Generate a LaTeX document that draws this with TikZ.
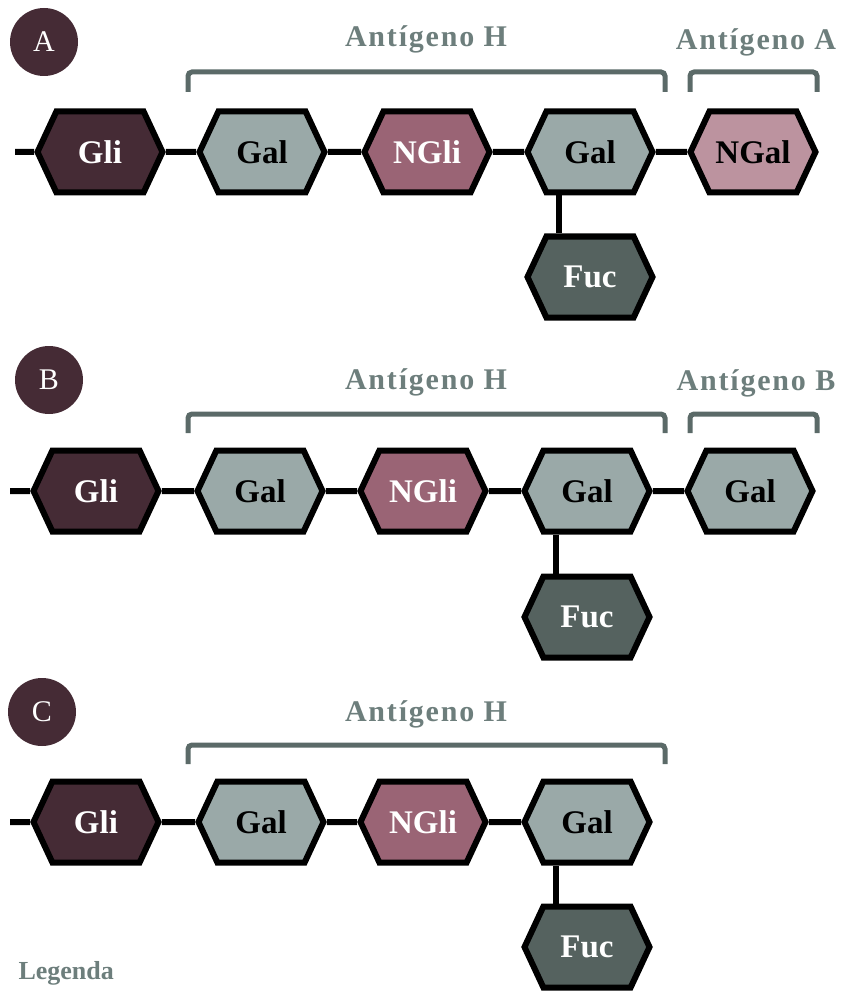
\documentclass[tikz,border=0pt]{standalone}
\usepackage{fontspec}
\setmainfont{Liberation Serif}
\newfontfamily\labelfont[LetterSpace=6]{Liberation Serif}
\usetikzlibrary{shapes.symbols}

\definecolor{cgli}{HTML}{452B35}
\definecolor{cgal}{HTML}{9AA9A8}
\definecolor{cngli}{HTML}{9A6475}
\definecolor{cngal}{HTML}{BC939F}
\definecolor{cfuc}{HTML}{55625F}
\definecolor{cbrack}{HTML}{5B6A68}
\definecolor{ctext}{HTML}{6D7E7C}

\begin{document}
\begin{tikzpicture}[x=1pt, y=-1pt]
    \tikzset{
        sugar/.style= {signal, signal to=east and west, signal pointer angle=130,
            draw=black, line width=6pt, minimum width=125pt, minimum height=81pt,
            inner sep=0pt, font=\fontsize{33}{33}\selectfont\bfseries},
        gli/.style= {sugar, fill=cgli, text=white},
        gal/.style= {sugar, fill=cgal, text=black},
        ngli/.style= {sugar, fill=cngli, text=white},
        ngal/.style= {sugar, fill=cngal, text=black},
        fuc/.style= {sugar, fill=cfuc, text=white},
        bond/.style= {draw=black, line width=6pt},
        tag/.style= {circle, fill=cgli, text=white, minimum size=68pt, inner sep=0pt,
            font=\fontsize{30}{30}\selectfont},
        antigen/.style= {anchor=base, text=ctext, font=\fontsize{30}{30}\selectfont\labelfont\bfseries},
        brack/.style= {draw=cbrack, line width=5pt, rounded corners=4pt},
    }
    \useasboundingbox (0,0) rectangle (845,992);

    % A
    \node[tag] (ta) at (44,42) {A};
    \node[antigen] (ha) at (426,47) {Antígeno H};
    \node[antigen] (aa) at (756,50) {Antígeno A};
    \draw[brack] (188,92) -- (188,72) -- (665,72) -- (665,92);
    \draw[brack] (690,92) -- (690,72) -- (817,72) -- (817,92);
    \coordinate (a0) at (15,152);
    \node[gli] (a1) at (100,152) {Gli};
    \node[gal] (a2) at (262,152) {Gal};
    \node[ngli] (a3) at (427,152) {NGli};
    \node[gal] (a4) at (590,152) {Gal};
    \node[ngal] (a5) at (753,152) {NGal};
    \node[fuc] (af) at (590,277) {Fuc};
    \draw[bond] (a0) -- (a1) -- (a2) -- (a3) -- (a4) -- (a5);
    \draw[bond] ([xshift=-31pt]a4.south) -- ([xshift=-31pt]af.north);

    % B
    \node[tag] (tb) at (49,380) {B};
    \node[antigen] (hb) at (426,389) {Antígeno H};
    \node[antigen] (ab) at (756,390) {Antígeno B};
    \draw[brack] (188,433) -- (188,414) -- (665,414) -- (665,433);
    \draw[brack] (690,433) -- (690,414) -- (817,414) -- (817,433);
    \coordinate (b0) at (10,491);
    \node[gli] (b1) at (96,491) {Gli};
    \node[gal] (b2) at (260,491) {Gal};
    \node[ngli] (b3) at (423,491) {NGli};
    \node[gal] (b4) at (587,491) {Gal};
    \node[gal] (b5) at (750,491) {Gal};
    \node[fuc] (bf) at (587,617) {Fuc};
    \draw[bond] (b0) -- (b1) -- (b2) -- (b3) -- (b4) -- (b5);
    \draw[bond] ([xshift=-31pt]b4.south) -- ([xshift=-31pt]bf.north);

    % C
    \node[tag] (tc) at (42,712) {C};
    \node[antigen] (hc) at (426,721) {Antígeno H};
    \draw[brack] (188,764) -- (188,745) -- (665,745) -- (665,764);
    \coordinate (c0) at (10,822);
    \node[gli] (c1) at (96,822) {Gli};
    \node[gal] (c2) at (261,822) {Gal};
    \node[ngli] (c3) at (423,822) {NGli};
    \node[gal] (c4) at (587,822) {Gal};
    \node[fuc] (cf) at (587,947) {Fuc};
    \draw[bond] (c0) -- (c1) -- (c2) -- (c3) -- (c4);
    \draw[bond] ([xshift=-31pt]c4.south) -- ([xshift=-31pt]cf.north);

    \node[anchor=base west, text=ctext, font=\fontsize{26}{26}\selectfont\bfseries] (leg) at (15,979) {Legenda};
\end{tikzpicture}
\end{document}
